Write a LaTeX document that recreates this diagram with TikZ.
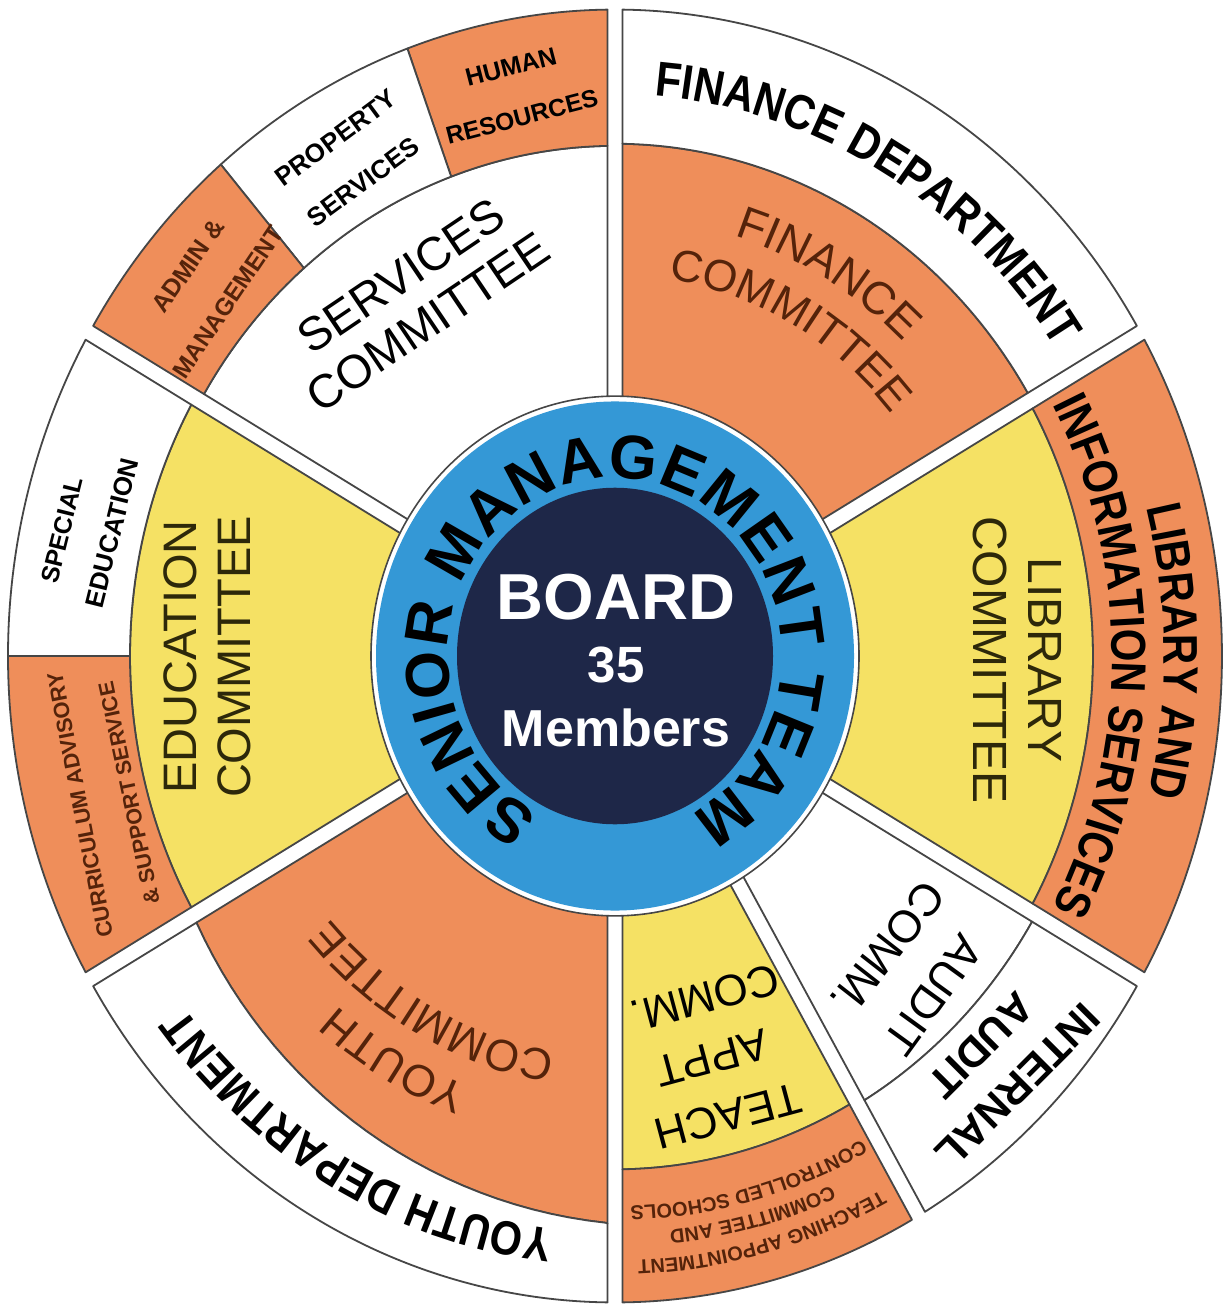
\documentclass[tikz,border=0pt]{standalone}
\usepackage{fontspec}
\setmainfont{Liberation Sans}
\newfontfamily\narrowfont[FakeStretch=0.86]{Liberation Sans}
\usetikzlibrary{decorations.text}

\definecolor{orng}{RGB}{239,142,90}
\definecolor{yell}{RGB}{245,225,100}
\definecolor{ringblue}{RGB}{52,152,214}
\definecolor{navy}{RGB}{30,39,72}
\definecolor{lc}{RGB}{70,70,70}
\definecolor{tbrown}{RGB}{85,35,10}
\definecolor{tolive}{RGB}{45,40,10}

\tikzset{
  sec/.style={draw=lc, line width=0.9pt, line join=round},
  lbl/.style={inner sep=0pt, outer sep=0pt},
  cmt/.style={lbl, font=\fontsize{23.5}{28}\selectfont},
  smallb/.style={lbl, font=\bfseries\fontsize{12.5}{15}\selectfont},
}

% annular wedge: #1 style, #2 a, #3 b, #4 r1, #5 r2, #6 half-gap at a, #7 half-gap at b
\newcommand{\sect}[7]{%
  \path[#1] ({#2+asin(#6/#4)}:#4) -- ({#2+asin(#6/#5)}:#5)
    arc[start angle={#2+asin(#6/#5)}, end angle={#3-asin(#7/#5)}, radius=#5]
    -- ({#3-asin(#7/#4)}:#4)
    arc[start angle={#3-asin(#7/#4)}, end angle={#2+asin(#6/#4)}, radius=#4] -- cycle;}

% curved text, clockwise, tops outward: #1 r, #2 centre angle, #3 half span, #4 format macro, #5 text, #6 colour
\newcommand{\arctext}[6]{%
  \path[decorate, decoration={text along path, text color=#6, text align=center, text={|#4|#5}}]
    ({#2+#3}:#1) arc[start angle={#2+#3}, end angle={#2-#3}, radius=#1];}

\newcommand\fSMT{\bfseries\fontsize{31}{35}\selectfont}
\newcommand\fDept{\narrowfont\bfseries\fontsize{24.5}{30}\selectfont}
\newcommand\fYDept{\narrowfont\bfseries\fontsize{24}{30}\selectfont}
\newcommand\fLib{\narrowfont\bfseries\fontsize{24.5}{28}\selectfont}
\newcommand\fComA{\fontsize{23}{28}\selectfont}
\newcommand\fComB{\fontsize{22.3}{28}\selectfont}
\newcommand\fTiny{\bfseries\fontsize{10}{12}\selectfont}

\begin{document}
\begin{tikzpicture}[x=0.5pt,y=0.5pt]
\fill[white] (0,0) rectangle (1222,-1304);
\useasboundingbox (0,0) rectangle (1222,-1304);

\begin{scope}[shift={(615,-656)}, yscale=1.065]
  % Services
  \sect{fill=white, sec}{90}{150}{238}{479}{7.5}{7.5}
  \sect{fill=orng, sec}{90}{110}{479}{607}{7.5}{0}
  \sect{fill=white, sec}{110}{130.5}{479}{607}{0}{0}
  \sect{fill=orng, sec}{130.5}{150}{479}{607}{0}{7.5}
  % Finance
  \sect{fill=orng, sec}{30}{90}{238}{481}{7.5}{7.5}
  \sect{fill=white, sec}{30}{90}{481}{607}{7.5}{7.5}
  % Library
  \sect{fill=yell, sec}{-30}{30}{238}{478}{7.5}{7.5}
  \sect{fill=orng, sec}{-30}{30}{478}{607}{7.5}{7.5}
  % Audit
  \sect{fill=white, sec}{-60}{-30}{238}{486}{7.5}{7.5}
  \sect{fill=white, sec}{-60}{-30}{486}{607}{7.5}{7.5}
  % Teaching appointments
  \sect{fill=yell, sec}{-90}{-60}{238}{482}{7.5}{7.5}
  \sect{fill=orng, sec}{-90}{-60}{482}{607}{7.5}{7.5}
  % Education
  \sect{fill=yell, sec}{150}{210}{238}{485}{7.5}{7.5}
  \sect{fill=white, sec}{150}{180}{485}{607}{7.5}{0}
  \sect{fill=orng, sec}{180}{210}{485}{607}{0}{7.5}
  % Youth (split radius varies)
  \path[fill=orng, sec] ({210+asin(7.5/238)}:238) -- ({210+asin(7.5/487)}:487)
    -- plot[domain=211:269, samples=30] ({\x}:{487+(\x-210)*46/60})
    -- ({270-asin(7.5/533)}:533) -- ({270-asin(7.5/238)}:238)
    arc[start angle={270-asin(7.5/238)}, end angle={210+asin(7.5/238)}, radius=238] -- cycle;
  \path[fill=white, sec] ({210+asin(7.5/487)}:487) -- ({210+asin(7.5/607)}:607)
    arc[start angle={210+asin(7.5/607)}, end angle={270-asin(7.5/607)}, radius=607]
    -- ({270-asin(7.5/533)}:533)
    -- plot[domain=269:211, samples=30] ({\x}:{487+(\x-210)*46/60}) -- cycle;

  % central rings
  \path[fill=white, draw=lc, line width=0.8pt] (0,0) circle[radius=244];
  \path[fill=ringblue] (0,0) circle[radius=239];
  \path[fill=navy] (0,0) circle[radius=158];

  % curved texts
  \path[decorate, decoration={text along path, text align={fit to path}, text={|\fSMT|SENIOR MANAGEMENT TEAM}}]
    (243:167) arc[start angle=243, end angle=-63, radius=167];
  \arctext{527}{60}{45}{\fDept}{FINANCE DEPARTMENT}{black}
  \arctext{412}{60}{40}{\fComA}{FINANCE}{tbrown}
  \arctext{358}{61}{45}{\fComB}{COMMITTEE}{tbrown}
  \arctext{549}{0.5}{45}{\fLib}{LIBRARY AND}{black}
  \arctext{497}{0}{50}{\fLib}{INFORMATION SERVICES}{black}
  \arctext{542}{-119}{45}{\fYDept}{YOUTH DEPARTMENT}{black}
  \arctext{430}{240.5}{40}{\fComB}{YOUTH}{tbrown}
  \arctext{377}{241.5}{45}{\fComB}{COMMITTEE}{tbrown}
  \arctext{568}{-75}{25}{\fTiny}{TEACHING APPOINTMENT}{tbrown}
  \arctext{542}{-75.5}{25}{\fTiny}{COMMITTEE AND}{tbrown}
  \arctext{517}{-75}{25}{\fTiny}{CONTROLLED SCHOOLS}{tbrown}
\end{scope}

% centre
\node[lbl, text=white, font=\bfseries\fontsize{32.5}{36}\selectfont] (board) at (616,-597) {BOARD};
\node[lbl, text=white, font=\bfseries\fontsize{25.5}{30}\selectfont] (num) at (616,-665) {35};
\node[lbl, text=white, font=\bfseries\fontsize{26}{30}\selectfont] (mem) at (616,-728) {Members};

% services
\node[cmt, rotate=34] (sc1) at (401,-276) {SERVICES};
\node[cmt, rotate=34] (sc2) at (428,-322) {COMMITTEE};
\node[smallb, text=tbrown, rotate=55] (am1) at (188,-266) {ADMIN \&};
\node[smallb, text=tbrown, font=\bfseries\fontsize{12.2}{15}\selectfont, rotate=56] (am2) at (228,-302) {MANAGEMENT};
\node[smallb, font=\bfseries\fontsize{13}{15}\selectfont, rotate=36.5] (ps1) at (336,-138) {PROPERTY};
\node[smallb, font=\bfseries\fontsize{13}{15}\selectfont, rotate=36.5] (ps2) at (363,-182) {SERVICES};
\node[smallb, rotate=14.5] (hr1) at (511,-67) {HUMAN};
\node[smallb, font=\bfseries\fontsize{12.3}{15}\selectfont, rotate=14.5] (hr2) at (522,-117) {RESOURCES};

% library committee
\node[lbl, text=tolive, font=\fontsize{24}{28}\selectfont, rotate=-90] (lc1) at (1045,-660) {LIBRARY};
\node[lbl, text=tolive, font=\fontsize{24}{28}\selectfont, rotate=-90] (lc2) at (990,-660) {COMMITTEE};

% education
\node[lbl, text=tolive, font=\fontsize{23.5}{28}\selectfont, rotate=90] (ec1) at (180,-657) {EDUCATION};
\node[lbl, text=tolive, font=\fontsize{23.5}{28}\selectfont, rotate=90] (ec2) at (234,-657) {COMMITTEE};
\node[smallb, rotate=76] (se1) at (62,-530) {SPECIAL};
\node[smallb, font=\bfseries\fontsize{13}{15}\selectfont, rotate=76] (se2) at (112,-533) {EDUCATION};
\node[smallb, text=tbrown, font=\bfseries\fontsize{11}{13}\selectfont, rotate=101] (cu1) at (80,-805) {CURRICULUM ADVISORY};
\node[smallb, text=tbrown, font=\bfseries\fontsize{10.8}{13}\selectfont, rotate=102] (cu2) at (129,-793) {\& SUPPORT SERVICE};

% audit
\node[lbl, font=\fontsize{22.5}{26}\selectfont, rotate=-126] (ac1) at (933,-995) {AUDIT};
\node[lbl, font=\fontsize{22.5}{26}\selectfont, rotate=-128] (ac2) at (888,-948) {COMM.};
\node[lbl, font=\bfseries\fontsize{21}{26}\selectfont, rotate=-135] (ia1) at (1018,-1086) {INTERNAL};
\node[lbl, font=\bfseries\fontsize{21}{26}\selectfont, rotate=-135] (ia2) at (981,-1045) {AUDIT};

% teaching appointments
\node[lbl, font=\fontsize{22}{26}\selectfont, rotate=195] (ta1) at (728,-1116) {TEACH};
\node[lbl, font=\fontsize{22}{26}\selectfont, rotate=195] (ta2) at (712,-1058) {APPT};
\node[lbl, font=\fontsize{22}{26}\selectfont, rotate=195] (ta3) at (705,-998) {COMM.};
\end{tikzpicture}
\end{document}
